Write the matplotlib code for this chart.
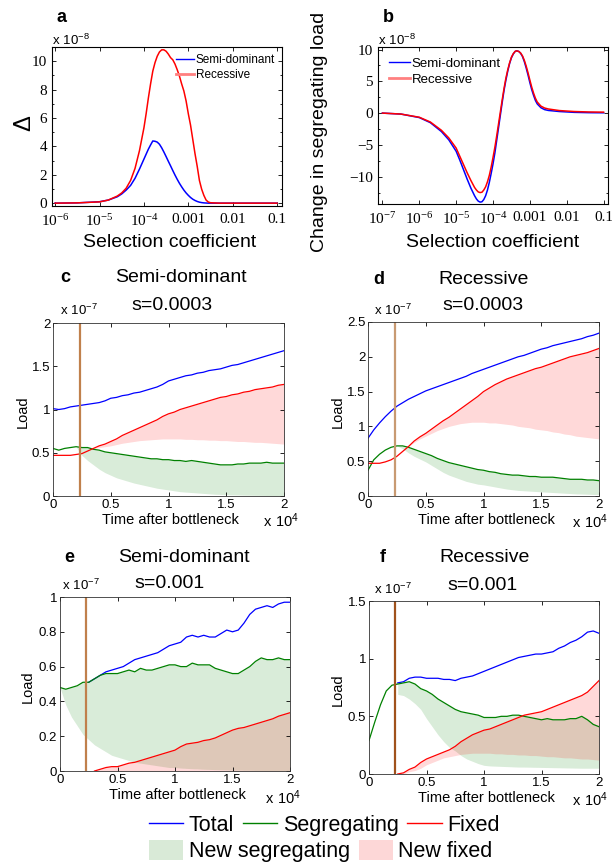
import numpy as np
import matplotlib.pyplot as plt
from matplotlib.lines import Line2D
from matplotlib.patches import Patch
from matplotlib.ticker import NullFormatter, MultipleLocator

W, H = 612, 863
SANS = 'Liberation Sans'
SERIF = 'Liberation Serif'
plt.rcParams['font.family'] = [SANS, 'DejaVu Sans']

nan = np.nan

# ---- panels a, b: values vs selection coefficient (log10 s), units of 1e-8
a_logs = [-6.0, -5.5, -5.0, -4.8, -4.6, -4.5, -4.4, -4.3, -4.2, -4.1,
          -4.0, -3.95, -3.9, -3.85, -3.8, -3.75, -3.7, -3.65, -3.6, -3.55,
          -3.5, -3.45, -3.4, -3.35, -3.3, -3.25, -3.2, -3.15, -3.1, -3.05,
          -3.0, -2.95, -2.9, -2.85, -2.8, -2.75, -2.7, -2.65, -2.6, -2.55,
          -2.5, -2.3, -2.0, -1.5, -1.0]
a_semi = [0.0, 0.02, 0.10, 0.22, 0.45, 0.65, 0.92, 1.25, 1.75, 2.4,
          3.1, 3.45, 3.8, 4.1, 4.38, 4.36, 4.3, 4.15, 3.9, 3.6,
          3.28, 2.95, 2.63, 2.3, 1.98, 1.68, 1.4, 1.15, 0.92, 0.72,
          0.55, 0.4, 0.28, 0.19, 0.12, 0.07, 0.04, 0.02, 0.01, 0.0,
          0.0, 0.0, 0.0, 0.0, 0.0]
a_rec = [0.0, 0.02, 0.09, 0.22, 0.5, 0.72, 1.05, 1.6, 2.45, 3.7,
         5.3, 6.3, 7.4, 8.4, 9.3, 9.9, 10.35, 10.65, 10.8, 10.8,
         10.7, 10.5, 10.25, 10.1, 9.8, 9.4, 8.95, 8.4, 7.9, 7.2,
         6.3, 5.5, 4.5, 3.5, 2.6, 1.6, 0.99, 0.55, 0.22, 0.08,
         0.03, 0.0, 0.0, 0.0, 0.0]

b_logs = [-7.0, -6.5, -6.0, -5.7, -5.4, -5.2, -5.0, -4.9, -4.8, -4.7,
          -4.6, -4.5, -4.45, -4.4, -4.35, -4.3, -4.25, -4.2, -4.15, -4.1,
          -4.05, -4.0, -3.95, -3.9, -3.85, -3.8, -3.75, -3.7, -3.65, -3.6,
          -3.55, -3.5, -3.45, -3.4, -3.36, -3.3, -3.25, -3.2, -3.15, -3.1,
          -3.05, -3.0, -2.95, -2.9, -2.85, -2.8, -2.7, -2.6, -2.5, -2.2,
          -1.8, -1.4, -1.0]
b_semi = [0.0, -0.15, -0.7, -1.5, -2.9, -4.2, -6.0, -7.4, -8.9, -10.4,
          -11.8, -13.0, -13.5, -13.85, -14.0, -13.95, -13.6, -13.0, -12.1, -10.9,
          -9.5, -8.0, -6.3, -4.3, -2.3, -0.3, 1.7, 3.6, 5.2, 6.6,
          7.8, 8.7, 9.3, 9.7, 9.8, 9.7, 9.4, 8.9, 8.1, 7.1,
          6.0, 4.8, 3.7, 2.8, 2.0, 1.45, 0.85, 0.55, 0.42, 0.25,
          0.12, 0.07, 0.05]
b_rec = [0.0, -0.15, -0.65, -1.4, -2.7, -3.9, -5.5, -6.8, -8.1, -9.4,
         -10.6, -11.7, -12.1, -12.4, -12.5, -12.45, -12.1, -11.6, -10.8, -9.8,
         -8.5, -7.0, -5.4, -3.6, -1.7, 0.2, 2.1, 3.9, 5.5, 6.8,
         7.9, 8.8, 9.35, 9.7, 9.8, 9.7, 9.45, 9.0, 8.3, 7.4,
         6.35, 5.2, 4.1, 3.15, 2.35, 1.75, 1.1, 0.8, 0.65, 0.4,
         0.25, 0.18, 0.15]

# ---- panels c-f: load vs time after bottleneck, units of 1e-7
t = np.arange(0, 20001, 500)
bottleneck_end = 2300

c_total = [1.01, 1.00, 1.01, 1.03, 1.04, 1.05, 1.06, 1.07, 1.08, 1.10, 1.13,
           1.14, 1.16, 1.17, 1.19, 1.20, 1.22, 1.24, 1.26, 1.29, 1.33,
           1.35, 1.37, 1.39, 1.40, 1.42, 1.43, 1.45, 1.46, 1.47, 1.49,
           1.51, 1.52, 1.54, 1.56, 1.58, 1.60, 1.62, 1.64, 1.66, 1.68]
c_seg = [0.55, 0.53, 0.55, 0.56, 0.57, 0.56, 0.56, 0.54, 0.53, 0.51, 0.50,
         0.49, 0.48, 0.47, 0.46, 0.45, 0.44, 0.43, 0.43, 0.42, 0.42,
         0.41, 0.41, 0.40, 0.41, 0.40, 0.39, 0.38, 0.37, 0.36, 0.36,
         0.36, 0.37, 0.37, 0.38, 0.38, 0.38, 0.39, 0.38, 0.38, 0.38]
c_fixed = [0.47, 0.47, 0.47, 0.47, 0.48, 0.49, 0.52, 0.55, 0.58, 0.60, 0.63,
           0.66, 0.70, 0.73, 0.76, 0.79, 0.82, 0.85, 0.88, 0.92, 0.95,
           0.97, 1.00, 1.02, 1.04, 1.06, 1.08, 1.10, 1.12, 1.14, 1.15,
           1.17, 1.18, 1.20, 1.21, 1.23, 1.24, 1.25, 1.26, 1.28, 1.29]
c_seg_old = [nan, nan, nan, nan, 0.57, 0.47, 0.41, 0.36, 0.31, 0.27, 0.24,
             0.21, 0.19, 0.17, 0.15, 0.135, 0.12, 0.105, 0.09, 0.08, 0.07,
             0.06, 0.05, 0.045, 0.04, 0.035, 0.03, 0.025, 0.02, 0.018, 0.015,
             0.013, 0.012, 0.01, 0.009, 0.008, 0.007, 0.006, 0.005, 0.005, 0.005]
c_fix_old = [nan, nan, nan, nan, nan, nan, nan, 0.55, 0.56, 0.57, 0.58,
             0.595, 0.61, 0.62, 0.63, 0.64, 0.645, 0.65, 0.655, 0.66, 0.66,
             0.66, 0.66, 0.655, 0.655, 0.65, 0.65, 0.645, 0.645, 0.64, 0.64,
             0.635, 0.63, 0.63, 0.625, 0.62, 0.62, 0.615, 0.61, 0.605, 0.60]

d_total = [0.83, 0.95, 1.05, 1.14, 1.22, 1.29, 1.34, 1.39, 1.43, 1.47, 1.51,
           1.54, 1.57, 1.60, 1.63, 1.66, 1.69, 1.72, 1.76, 1.79, 1.82,
           1.85, 1.88, 1.91, 1.94, 1.97, 2.00, 2.02, 2.05, 2.08, 2.11,
           2.13, 2.16, 2.18, 2.20, 2.22, 2.24, 2.26, 2.29, 2.31, 2.34]
d_seg = [0.37, 0.52, 0.60, 0.66, 0.70, 0.72, 0.72, 0.70, 0.67, 0.64, 0.61,
         0.58, 0.54, 0.51, 0.48, 0.46, 0.44, 0.42, 0.40, 0.38, 0.37,
         0.35, 0.34, 0.32, 0.31, 0.30, 0.30, 0.29, 0.28, 0.28, 0.27,
         0.27, 0.27, 0.26, 0.25, 0.24, 0.24, 0.24, 0.23, 0.23, 0.22]
d_fixed = [0.47, 0.47, 0.47, 0.49, 0.52, 0.57, 0.64, 0.71, 0.79, 0.85, 0.90,
           0.96, 1.02, 1.08, 1.13, 1.19, 1.25, 1.31, 1.37, 1.43, 1.50,
           1.55, 1.60, 1.64, 1.68, 1.71, 1.74, 1.77, 1.80, 1.83, 1.85,
           1.88, 1.91, 1.94, 1.97, 2.00, 2.02, 2.04, 2.06, 2.09, 2.12]
d_seg_old = [nan, nan, nan, nan, nan, 0.72, 0.68, 0.62, 0.57, 0.53, 0.49,
             0.44, 0.39, 0.34, 0.30, 0.27, 0.24, 0.21, 0.19, 0.17, 0.16,
             0.145, 0.13, 0.115, 0.10, 0.09, 0.08, 0.075, 0.07, 0.065, 0.06,
             0.055, 0.05, 0.045, 0.04, 0.035, 0.03, 0.028, 0.025, 0.022, 0.02]
d_fix_old = [nan, nan, nan, nan, nan, nan, nan, 0.71, 0.77, 0.82, 0.86,
             0.90, 0.94, 0.97, 1.00, 1.02, 1.04, 1.05, 1.06, 1.06, 1.06,
             1.05, 1.05, 1.04, 1.03, 1.02, 1.00, 0.99, 0.98, 0.96, 0.95,
             0.94, 0.92, 0.91, 0.89, 0.88, 0.86, 0.85, 0.84, 0.83, 0.82]

e_total = [nan, nan, nan, nan, nan, 0.51, 0.53, 0.55, 0.57, 0.58, 0.59,
           0.60, 0.62, 0.64, 0.65, 0.66, 0.67, 0.68, 0.70, 0.72, 0.73,
           0.74, 0.77, 0.78, 0.77, 0.78, 0.77, 0.77, 0.79, 0.81, 0.80,
           0.81, 0.85, 0.90, 0.93, 0.94, 0.95, 0.94, 0.96, 0.97, 0.97]
e_seg = [0.48, 0.47, 0.48, 0.49, 0.51, 0.51, 0.53, 0.55, 0.56, 0.56, 0.56,
         0.57, 0.58, 0.57, 0.59, 0.58, 0.58, 0.59, 0.60, 0.61, 0.61,
         0.60, 0.60, 0.62, 0.61, 0.61, 0.61, 0.59, 0.58, 0.57, 0.56,
         0.56, 0.58, 0.60, 0.63, 0.65, 0.64, 0.64, 0.65, 0.64, 0.64]
e_fixed = [nan, nan, nan, nan, nan, nan, 0.0, 0.01, 0.02, 0.025, 0.025,
           0.035, 0.045, 0.05, 0.06, 0.07, 0.08, 0.09, 0.10, 0.11, 0.12,
           0.14, 0.155, 0.16, 0.165, 0.175, 0.18, 0.19, 0.205, 0.22, 0.235,
           0.245, 0.25, 0.26, 0.27, 0.28, 0.29, 0.30, 0.315, 0.325, 0.335]
e_seg_old = [0.48, 0.38, 0.31, 0.26, 0.21, 0.18, 0.15, 0.13, 0.11, 0.09, 0.08,
             0.07, 0.06, 0.05, 0.045, 0.04, 0.035, 0.03, 0.025, 0.02, 0.02,
             0.017, 0.015, 0.013, 0.012, 0.01, 0.009, 0.008, 0.007, 0.006, 0.005,
             0.005, 0.004, 0.004, 0.003, 0.003, 0.002, 0.002, 0.001, 0.001, 0.0]
e_fix_old = [nan, nan, nan, nan, nan, nan, 0.0, 0.0, 0.0, 0.0, 0.0,
             0.0, 0.0, 0.0, 0.0, 0.0, 0.0, 0.0, 0.0, 0.0, 0.0,
             0.0, 0.0, 0.0, 0.0, 0.0, 0.0, 0.0, 0.0, 0.0, 0.0,
             0.0, 0.0, 0.0, 0.0, 0.0, 0.0, 0.0, 0.0, 0.0, 0.0]

f_total = [nan, nan, nan, nan, nan, 0.79, 0.80, 0.83, 0.84, 0.84, 0.83,
           0.83, 0.83, 0.82, 0.82, 0.81, 0.83, 0.84, 0.85, 0.87, 0.89,
           0.91, 0.93, 0.95, 0.97, 0.99, 1.01, 1.02, 1.03, 1.04, 1.04,
           1.05, 1.06, 1.09, 1.11, 1.14, 1.16, 1.19, 1.23, 1.24, 1.22]
f_seg = [0.29, 0.45, 0.60, 0.72, 0.77, 0.78, 0.79, 0.80, 0.78, 0.74, 0.72,
         0.69, 0.65, 0.62, 0.59, 0.56, 0.54, 0.53, 0.52, 0.51, 0.49,
         0.49, 0.49, 0.50, 0.50, 0.51, 0.51, 0.50, 0.49, 0.48, 0.47,
         0.48, 0.47, 0.47, 0.47, 0.48, 0.48, 0.50, 0.47, 0.43, 0.41]
f_fixed = [nan, nan, nan, nan, nan, 0.0, 0.01, 0.04, 0.06, 0.10, 0.13,
           0.15, 0.17, 0.19, 0.21, 0.24, 0.28, 0.31, 0.34, 0.36, 0.38,
           0.39, 0.41, 0.43, 0.45, 0.47, 0.49, 0.51, 0.52, 0.53, 0.54,
           0.56, 0.58, 0.60, 0.62, 0.64, 0.66, 0.68, 0.71, 0.76, 0.81]
f_seg_old = [nan, nan, nan, nan, nan, 0.69, 0.68, 0.65, 0.61, 0.56, 0.48,
             0.41, 0.34, 0.28, 0.23, 0.20, 0.16, 0.13, 0.11, 0.09, 0.075,
             0.07, 0.068, 0.066, 0.064, 0.062, 0.06, 0.06, 0.059, 0.058, 0.057,
             0.056, 0.055, 0.054, 0.053, 0.052, 0.051, 0.05, 0.05, 0.05, 0.05]
f_fix_old = [nan, nan, nan, nan, nan, 0.0, 0.0, 0.02, 0.03, 0.05, 0.08,
             0.10, 0.12, 0.14, 0.15, 0.16, 0.17, 0.175, 0.18, 0.18, 0.18,
             0.18, 0.175, 0.175, 0.17, 0.17, 0.165, 0.165, 0.16, 0.16, 0.155,
             0.15, 0.15, 0.145, 0.14, 0.14, 0.135, 0.13, 0.13, 0.125, 0.12]


fig = plt.figure(figsize=(W / 100, H / 100), dpi=100)


def px_axes(x0, y0, x1, y1):
    return fig.add_axes([x0 / W, 1 - y1 / H, (x1 - x0) / W, (y1 - y0) / H])


def put(x, y, s, **kw):
    kw.setdefault('ha', 'center')
    kw.setdefault('va', 'center')
    return fig.text(x / W, 1 - y / H, s, **kw)


def mreg(s):
    return r'$\mathregular{' + s + '}$'


# ---------------- panels a and b ----------------
def sel_panel(ax, logs, semi, rec, xt, xtl, ylim, yt, ytl):
    s = 10 ** np.array(logs)
    ax.plot(s, semi, color='#0000ff', lw=1.1)
    ax.plot(s, rec, color='#ff0000', lw=1.1)
    ax.set_xscale('log')
    ax.set_xticks(xt, xtl)
    ax.xaxis.set_minor_formatter(NullFormatter())
    ax.set_ylim(*ylim)
    ax.set_yticks(yt, ytl)
    ax.tick_params(which='both', direction='in', top=True, right=True,
                   labelsize=11, labelfontfamily=SERIF, length=3, width=0.6)
    ax.tick_params(which='minor', length=1.5)
    ax.tick_params(axis='x', pad=5)
    for sp in ax.spines.values():
        sp.set_linewidth(0.8)


ax_a = px_axes(52, 47, 282, 206)
sel_panel(ax_a, a_logs, a_semi, a_rec,
          [1e-6, 1e-5, 1e-4, 1e-3, 1e-2, 1e-1],
          [mreg('10^{-6}'), mreg('10^{-5}'), mreg('10^{-4}'), '0.001', '0.01', '0.1'],
          (-0.2, 11), [0, 2, 4, 6, 8, 10], ['0', '2', '4', '6', '8', '10'])
ax_a.set_xlim(10 ** -6.07, 10 ** -0.89)
ax_a.yaxis.set_minor_locator(MultipleLocator(1))
ax_a.legend(handles=[Line2D([], [], color='#0000ff', lw=1),
                     Line2D([], [], color='#ff8080', lw=2)],
            labels=['Semi-dominant', 'Recessive'], loc='upper right',
            frameon=False, fontsize=8.5, handlelength=1.5, handletextpad=0.15,
            labelspacing=0.25, borderaxespad=0.2)

ax_b = px_axes(378, 47, 608, 204)
sel_panel(ax_b, b_logs, b_semi, b_rec,
          [1e-7, 1e-6, 1e-5, 1e-4, 1e-3, 1e-2, 1e-1],
          [mreg('10^{-7}'), mreg('10^{-6}'), mreg('10^{-5}'), mreg('10^{-4}'),
           '0.001', '0.01', '0.1'],
          (-14.3, 10.4), [-10, -5, 0, 5, 10], ['\u221210', '\u22125', '0', '5', '10'])
ax_b.set_xlim(10 ** -7.12, 10 ** -0.88)
ax_b.yaxis.set_minor_locator(MultipleLocator(2.5))
ax_b.legend(handles=[Line2D([], [], color='#0000ff', lw=1),
                     Line2D([], [], color='#ff8080', lw=2)],
            labels=['Semi-dominant', 'Recessive'], loc='upper left',
            frameon=False, fontsize=9.5, handlelength=1.6, handletextpad=0.15,
            labelspacing=0.3, borderaxespad=0.4)

put(61, 17, 'a', fontsize=13, fontweight='bold')
put(388, 17, 'b', fontsize=13, fontweight='bold')
put(52, 40, mreg('x\\ 10^{-8}'), fontsize=9.5, ha='left')
put(378, 40, mreg('x\\ 10^{-8}'), fontsize=9.5, ha='left')
put(24, 123, '\u0394', fontsize=17, rotation=90)
put(320, 132, 'Change in segregating load', fontsize=14, rotation=90)
put(170, 242, 'Selection coefficient', fontsize=14)
put(493, 242, 'Selection coefficient', fontsize=14)


# ---------------- panels c-f ----------------
GREEN_FILL = (0.0, 0.5, 0.0, 0.15)
PINK_FILL = (1.0, 0.0, 0.0, 0.15)


def load_panel(ax, total, seg, fixed, seg_old, fix_old, ymax, ystep, ylabels, vcol):
    seg = np.array(seg, float)
    fixed = np.array(fixed, float)
    ax.fill_between(t, np.array(seg_old, float), seg, color=GREEN_FILL, lw=0)
    ax.fill_between(t, np.array(fix_old, float), fixed, color=PINK_FILL, lw=0)
    ax.plot(t, total, color='#0000ff', lw=0.9)
    ax.plot(t, seg, color='#008000', lw=0.9)
    ax.plot(t, fixed, color='#ff0000', lw=0.9)
    ax.axvline(bottleneck_end, color=vcol, lw=1.6)
    ax.set_xlim(0, 20000)
    ax.set_ylim(0, ymax)
    ax.set_xticks([0, 5000, 10000, 15000, 20000], ['0', '0.5', '1', '1.5', '2'])
    ax.set_yticks(np.arange(len(ylabels)) * ystep, ylabels)
    ax.tick_params(direction='in', top=True, right=True, labelsize=9.5,
                   length=3, width=0.6, pad=2)
    for sp in ax.spines.values():
        sp.set_linewidth(0.6)
        sp.set_color('#333333')


ax_c = px_axes(53, 323, 284, 496)
load_panel(ax_c, c_total, c_seg, c_fixed, c_seg_old, c_fix_old, 2, 0.5,
           ['0', '0.5', '1', '1.5', '2'], '#c0804c')
ax_d = px_axes(368, 322, 599, 496)
load_panel(ax_d, d_total, d_seg, d_fixed, d_seg_old, d_fix_old, 2.5, 0.5,
           ['0', '0.5', '1', '1.5', '2', '2.5'], '#c89a72')
ax_e = px_axes(60, 597, 290, 771)
load_panel(ax_e, e_total, e_seg, e_fixed, e_seg_old, e_fix_old, 1, 0.2,
           ['0', '0.2', '0.4', '0.6', '0.8', '1'], '#c0804c')
ax_f = px_axes(369, 601, 599, 774)
load_panel(ax_f, f_total, f_seg, f_fixed, f_seg_old, f_fix_old, 1.5, 0.5,
           ['0', '0.5', '1', '1.5'], '#a0521c')

panel_text = [
    # letter pos, letter, title pos, title, s pos, s text, x10 pos, load pos, xlabel pos, x10^4 pos
    ((65, 278), 'c', (181, 278), 'Semi-dominant', (172, 305), 's=0.0003',
     (60, 310), (23, 412), (170, 520), (281, 521)),
    ((379, 279), 'd', (484, 279), 'Recessive', (483, 306), 's=0.0003',
     (374, 310), (338, 412), (486, 520), (590, 522)),
    ((69, 557), 'e', (184, 557), 'Semi-dominant', (170, 584), 's=0.001',
     (62, 585), (28, 687), (177, 795), (283, 798)),
    ((383, 558), 'f', (485, 558), 'Recessive', (483, 585), 's=0.001',
     (374, 589), (338, 690), (486, 798), (590, 800)),
]
for lp, lt, tp, tt, sp, st, xp, yp, xlp, x4p in panel_text:
    put(*lp, lt, fontsize=13, fontweight='bold')
    put(*tp, tt, fontsize=14)
    put(*sp, st, fontsize=14)
    put(*xp, mreg('x\\ 10^{-7}'), fontsize=9.5, ha='left')
    put(*yp, 'Load', fontsize=10.5, rotation=90)
    put(*xlp, 'Time after bottleneck', fontsize=10.5)
    put(*x4p, mreg('x\\ 10^{4}'), fontsize=10.5)

# ---------------- shared legend ----------------
fig.legend(handles=[Line2D([], [], color='#0000ff', lw=1),
                    Line2D([], [], color='#008000', lw=1),
                    Line2D([], [], color='#ff0000', lw=1)],
           labels=['Total', 'Segregating', 'Fixed'], ncol=3,
           loc='center left', bbox_to_anchor=(149 / W, 1 - 825 / H),
           frameon=False, fontsize=15.5, handlelength=1.6, handletextpad=0.25,
           columnspacing=0.4, borderpad=0, borderaxespad=0)
fig.legend(handles=[Patch(facecolor='#d9ead7', edgecolor='none'),
                    Patch(facecolor='#fdd7d7', edgecolor='none')],
           labels=['New segregating', 'New fixed'], ncol=2,
           loc='center left', bbox_to_anchor=(149 / W, 1 - 851 / H),
           frameon=False, fontsize=15.5, handlelength=1.6, handleheight=1.1,
           handletextpad=0.25, columnspacing=0.4, borderpad=0, borderaxespad=0)

fig.savefig('out.png', dpi=100)
